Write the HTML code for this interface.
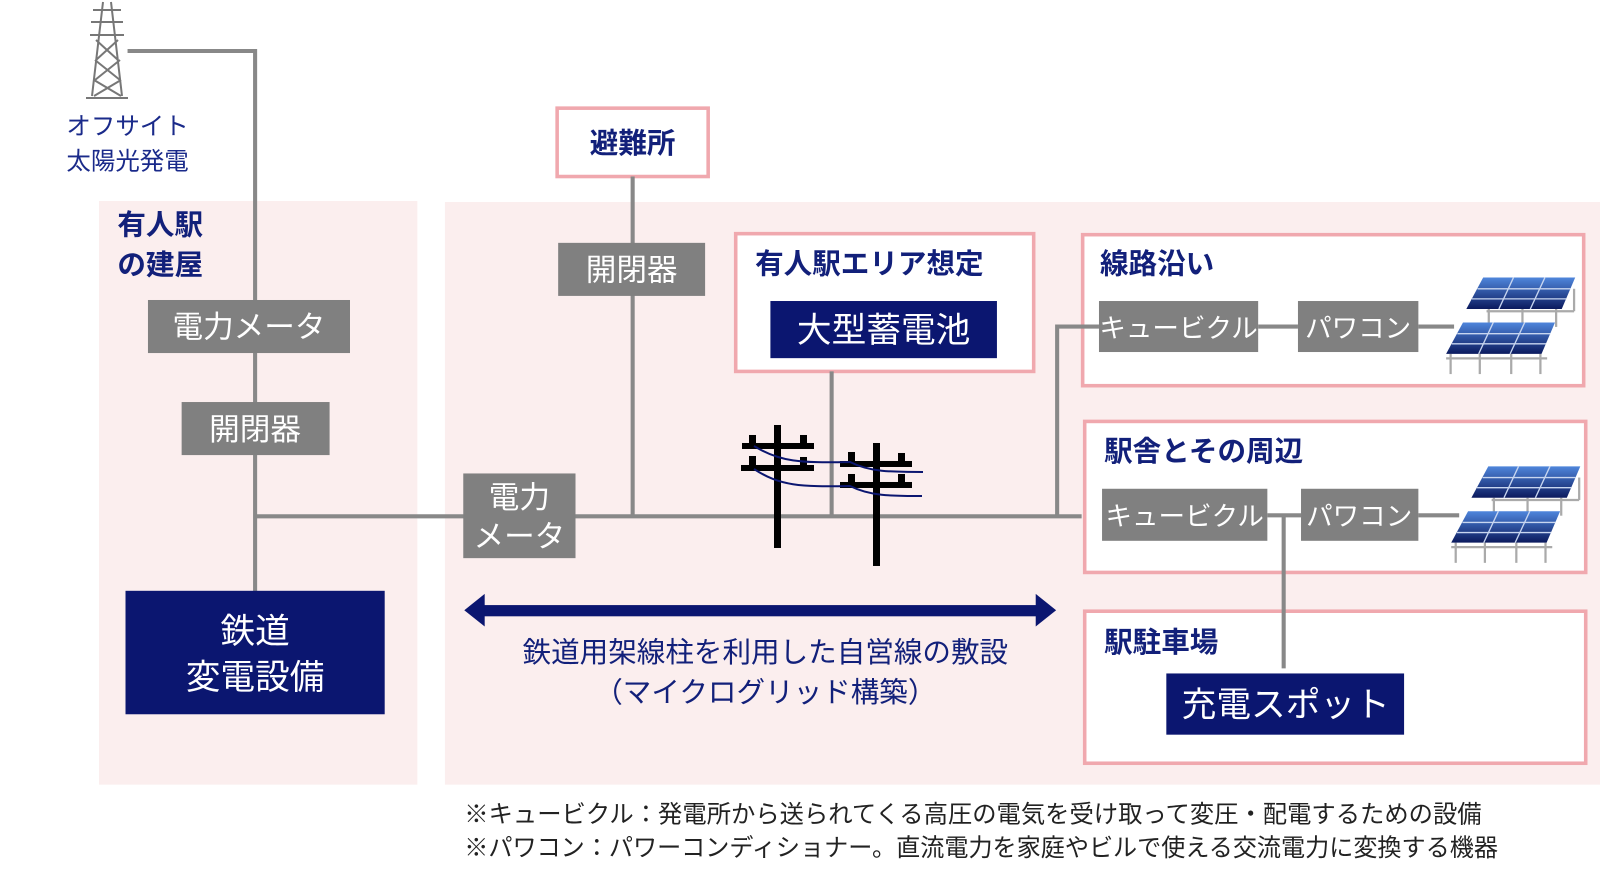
<!DOCTYPE html>
<html><head><meta charset="utf-8"><style>
html,body{margin:0;padding:0;background:#fff;}
svg{display:block;font-family:"Liberation Sans","Noto Sans CJK JP",sans-serif;}
</style></head><body>
<svg width="1600" height="881" viewBox="0 0 1568 863.4" preserveAspectRatio="none" xmlns="http://www.w3.org/2000/svg">
<defs>
<linearGradient id="pg" x1="0" y1="0" x2="0" y2="1">
<stop offset="0" stop-color="#4f86dc"/><stop offset="1" stop-color="#0b1a5e"/></linearGradient>
<g id="solar">
 <g stroke="#aaa" stroke-width="2">
  <line x1="20" y1="28" x2="20" y2="44"/><line x1="50" y1="28" x2="50" y2="44"/><line x1="80" y1="28" x2="80" y2="44"/><line x1="96" y1="10" x2="96" y2="30"/>
  <line x1="18" y1="30" x2="96" y2="30"/>
 </g>
 <polygon points="15,0 97,0 85,28 0,28" fill="url(#pg)"/>
 <g stroke="#c8d6f0" stroke-width="1.2">
  <line x1="42" y1="0" x2="29" y2="28"/><line x1="70" y1="0" x2="57" y2="28"/>
  <line x1="10" y1="10" x2="93" y2="10"/><line x1="5" y1="19" x2="89" y2="19"/>
 </g>
 <g transform="translate(-18,40)">
  <g stroke="#aaa" stroke-width="2">
   <line x1="4" y1="28" x2="4" y2="46"/><line x1="30" y1="28" x2="30" y2="46"/><line x1="58" y1="28" x2="58" y2="46"/><line x1="84" y1="28" x2="84" y2="46"/>
   <line x1="0" y1="32" x2="90" y2="32"/>
  </g>
  <polygon points="15,0 97,0 85,28 0,28" fill="url(#pg)"/>
  <g stroke="#c8d6f0" stroke-width="1.2">
   <line x1="42" y1="0" x2="29" y2="28"/><line x1="70" y1="0" x2="57" y2="28"/>
   <line x1="10" y1="10" x2="93" y2="10"/><line x1="5" y1="19" x2="89" y2="19"/>
  </g>
 </g>
</g>
</defs>

<!-- background areas -->
<rect x="97" y="197" width="312" height="572" fill="#fbeeee"/>
<rect x="436" y="198" width="1164" height="571" fill="#fbeeee"/>

<!-- tower -->
<g stroke="#777" stroke-width="2" fill="none" transform="scale(0.98)">
 <path d="M103,2 L92,96 M111,2 L122,96"/>
 <path d="M93,10 H121 M91,22 H123 M90,35 H124"/>
 <path d="M96,40 L118,60 M118,40 L96,60 M95,60 L120,80 M120,60 L95,80 M94,80 L121,96 M121,80 L94,96"/>
 <path d="M86,98 H128"/>
</g>

<!-- pink bordered boxes -->
<g fill="#fff" stroke="#f0a8ae" stroke-width="3.5">
 <rect x="546" y="106" width="148" height="67"/>
 <rect x="721" y="229" width="292" height="135"/>
 <rect x="1061" y="230" width="491" height="148"/>
 <rect x="1063" y="413" width="491" height="148"/>
 <rect x="1063" y="599" width="491" height="149"/>
</g>

<!-- lines -->
<g stroke="#888" stroke-width="4" fill="none">
 <path d="M125,50 H250 V580"/>
 <path d="M250,506 H1060"/>
 <path d="M620,173 V506"/>
 <path d="M815,364 V506"/>
 <path d="M1036,506 V320 H1077"/>
 <path d="M1233,320 H1272 M1390,320 H1425"/>
 <path d="M1242,505 H1275 M1390,505 H1430 M1258,505 V655"/>
</g>

<g fill="#1a2a8a" font-size="24">
 <text x="125" y="132" text-anchor="middle">オフサイト</text>
 <text x="125" y="166" text-anchor="middle">太陽光発電</text>
</g>
<g fill="#12207a" font-size="28" font-weight="bold">
 <text x="115" y="230">有人駅</text>
 <text x="115" y="269">の建屋</text>
</g>

<!-- gray boxes -->
<g fill="#808080">
 <rect x="145" y="294" width="198" height="52"/>
 <rect x="178" y="394" width="145" height="52"/>
 <rect x="454" y="464" width="110" height="83"/>
 <rect x="547" y="238" width="144" height="52"/>
 <rect x="1077" y="295" width="156" height="50"/>
 <rect x="1272" y="295" width="118" height="50"/>
 <rect x="1080" y="479" width="162" height="51"/>
 <rect x="1275" y="479" width="115" height="51"/>
</g>
<g fill="#fff" font-size="30" text-anchor="middle">
 <text x="244" y="331">電力メータ</text>
 <text x="250" y="431">開閉器</text>
 <text x="509" y="498">電力</text>
 <text x="509" y="536">メータ</text>
 <text x="619" y="275">開閉器</text>
 <text x="1155" y="331" font-size="26">キュービクル</text>
 <text x="1331" y="331" font-size="26">パワコン</text>
 <text x="1161" y="515" font-size="26">キュービクル</text>
 <text x="1332" y="515" font-size="26">パワコン</text>
</g>

<!-- navy boxes -->
<rect x="123" y="579" width="254" height="121" fill="#0b1670"/>
<text x="250" y="630" fill="#fff" font-size="34" text-anchor="middle">鉄道</text>
<text x="250" y="675" fill="#fff" font-size="34" text-anchor="middle">変電設備</text>

<g fill="#12207a" font-size="28" font-weight="bold">
 <text x="620" y="150" text-anchor="middle">避難所</text>
 <text x="740" y="268">有人駅エリア想定</text>
 <text x="1078" y="268">線路沿い</text>
 <text x="1082" y="452">駅舎とその周辺</text>
 <text x="1082" y="639">駅駐車場</text>
</g>
<rect x="755" y="295" width="222" height="56" fill="#0b1670"/>
<text x="866" y="335" fill="#fff" font-size="34" text-anchor="middle">大型蓄電池</text>
<rect x="1143" y="660" width="233" height="60" fill="#0b1670"/>
<text x="1260" y="702" fill="#fff" font-size="34" text-anchor="middle">充電スポット</text>

<!-- poles -->
<g transform="scale(0.98)">
<g fill="#000">
 <rect x="774" y="425" width="7" height="123"/>
 <rect x="742" y="443" width="72" height="6"/><rect x="741" y="465" width="73" height="6"/>
 <rect x="749" y="435" width="7" height="10"/><rect x="800" y="435" width="7" height="10"/>
 <rect x="749" y="456" width="7" height="10"/><rect x="800" y="457" width="7" height="10"/>
 <rect x="873" y="443" width="7" height="123"/>
 <rect x="840" y="461" width="72" height="6"/><rect x="840" y="482" width="72" height="6"/>
 <rect x="848" y="452" width="7" height="10"/><rect x="898" y="453" width="7" height="10"/>
 <rect x="848" y="474" width="7" height="10"/><rect x="898" y="474" width="7" height="10"/>
</g>
<g stroke="#0b1670" stroke-width="2" fill="none">
 <path d="M754,446 C780,462 800,463 850,462 C870,472 890,472 923,472"/>
 <path d="M754,469 C780,486 800,487 850,486 C870,496 890,496 922,496"/>
</g>
</g>

<!-- solar -->
<use href="#solar" transform="translate(1437,272) scale(1.1)"/>
<use href="#solar" transform="translate(1442,457) scale(1.1)"/>

<!-- arrow -->
<rect x="470" y="593" width="550" height="11" fill="#0b1670"/>
<polygon points="455,598 475,582 475,614" fill="#0b1670"/>
<polygon points="1035,598 1015,582 1015,614" fill="#0b1670"/>
<g fill="#12207a" font-size="28" text-anchor="middle">
 <text x="750" y="649">鉄道用架線柱を利用した自営線の敷設</text>
 <text x="750" y="688">（マイクログリッド構築）</text>
</g>

<g fill="#222" font-size="24">
 <text x="455" y="806" textLength="997" lengthAdjust="spacingAndGlyphs">※キュービクル：発電所から送られてくる高圧の電気を受け取って変圧・配電するための設備</text>
 <text x="455" y="839" textLength="1013" lengthAdjust="spacingAndGlyphs">※パワコン：パワーコンディショナー。直流電力を家庭やビルで使える交流電力に変換する機器</text>
</g>
</svg>
</body></html>
